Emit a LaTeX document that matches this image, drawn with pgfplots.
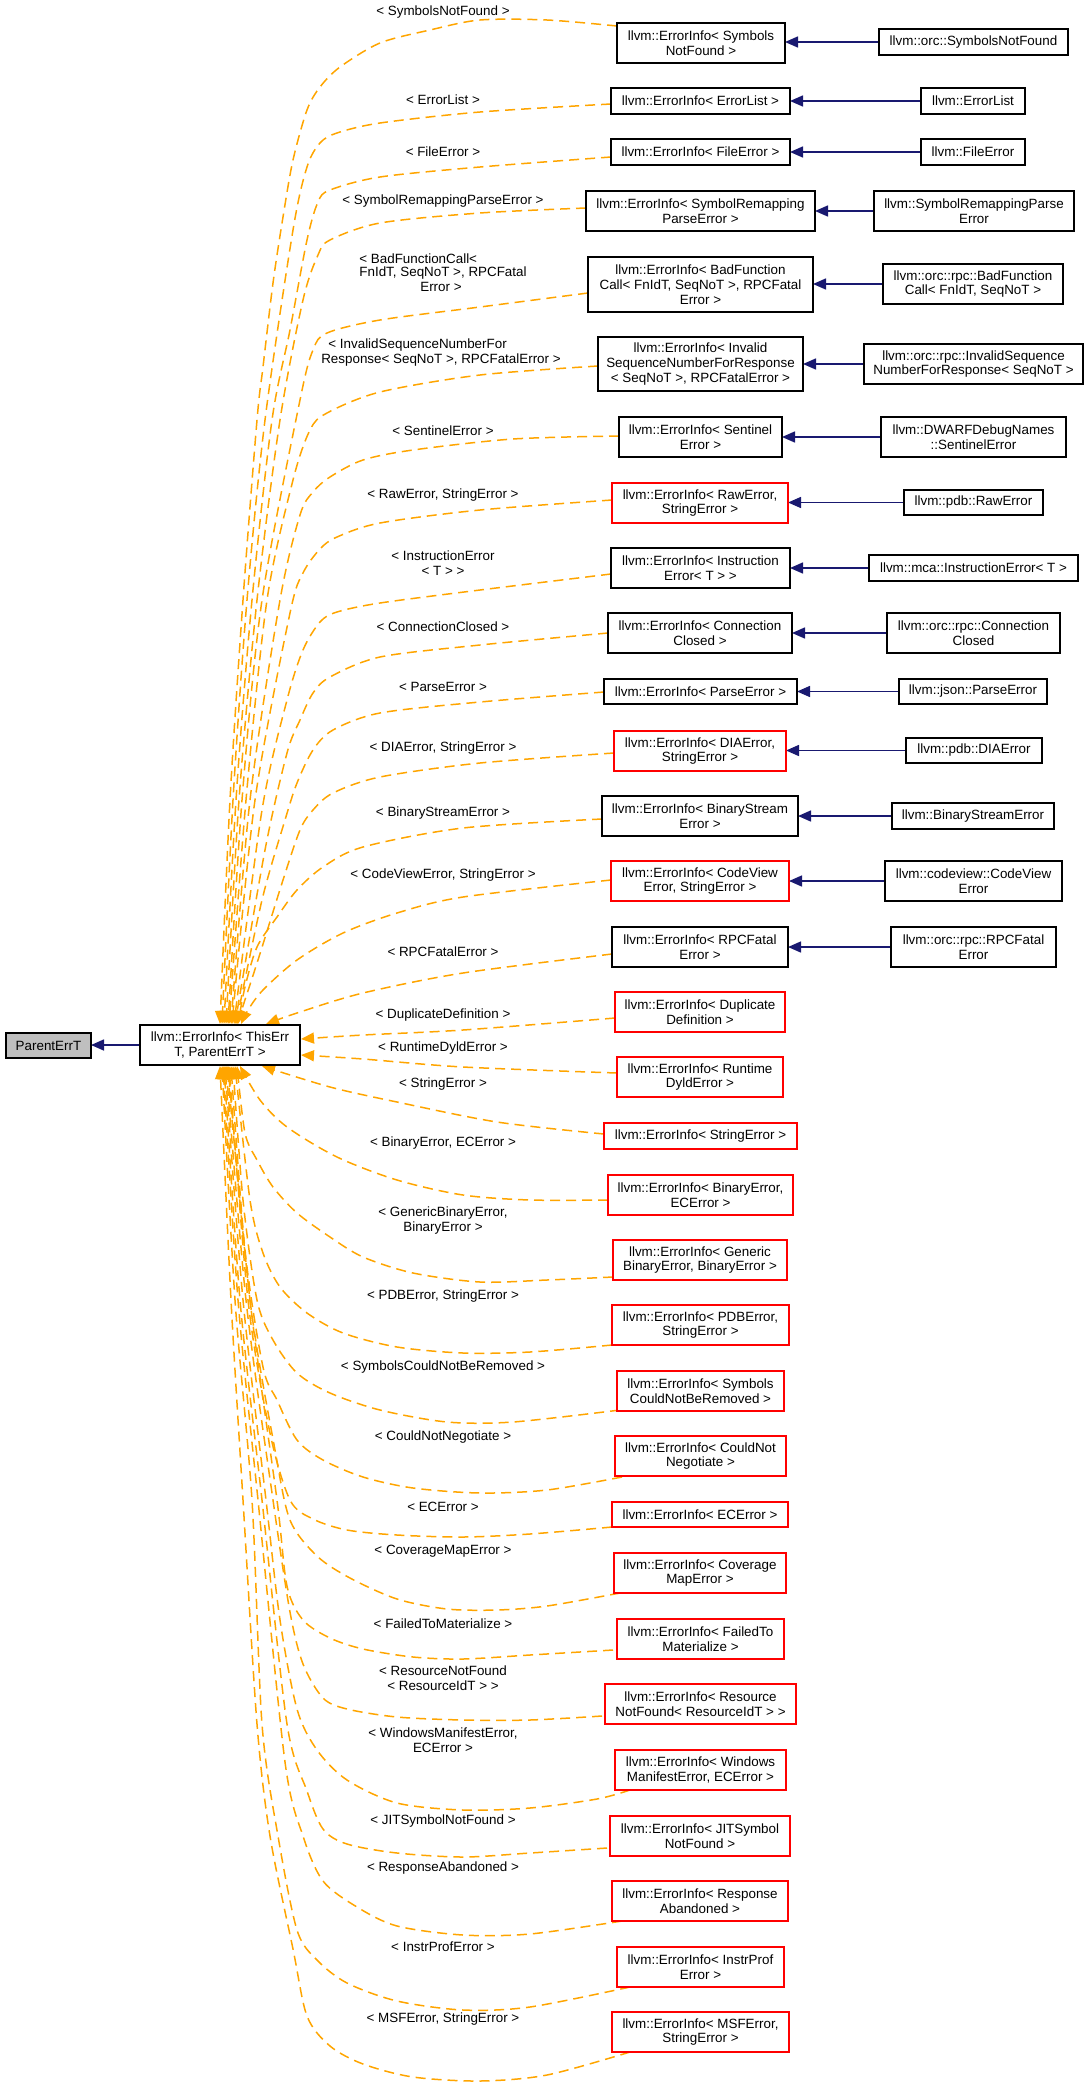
\documentclass[border=0pt]{standalone}
\usepackage{pgfplots}
\pgfplotsset{compat=1.18}
\usepackage{fontspec}
\setmainfont{Liberation Sans}
\usetikzlibrary{arrows.meta}
\definecolor{dorange}{HTML}{FFA500}
\definecolor{dblue}{HTML}{191970}
\definecolor{dred}{HTML}{FF0000}
\definecolor{dgray}{HTML}{BFBFBF}
\newcommand{\nf}{\fontsize{6.7pt}{7.4pt}\selectfont}
% box: x1 x2 y1 y2 cx cy color text
\newcommand{\bx}[8]{%
\addplot[draw=#7, fill=white, line width=0.8pt] coordinates {(#1,#3)(#2,#3)(#2,#4)(#1,#4)} -- cycle;
\node[align=center, font=\nf, inner sep=0pt] at (axis cs:#5,#6) {#8};}
\newcommand{\lb}[3]{\node[align=center, font=\nf, inner sep=0pt] at (axis cs:#1,#2) {#3};}
\begin{document}
\begin{tikzpicture}
\begin{axis}[
  width=542pt, height=1041.5pt, scale only axis,
  xmin=0, xmax=1084, ymin=0, ymax=2083, y dir=reverse,
  hide axis, clip=false,
  edge/.style={dorange, dash pattern=on 5pt off 3pt, line width=0.75pt, smooth, -{Triangle[length=6.5pt,width=5.5pt]}},
  inh/.style={dblue, line width=0.75pt, -{Triangle[length=6.5pt,width=5.5pt]}},
]
\addplot[draw=none] coordinates {(0,0)(1084,2083)};
% ---- orange dashed edges (top group)
\addplot[edge] coordinates {(617,26)(547,20)(480,20)(430,30)(380,43)(340,67)(320,87)(307,110)(293,160)(283,217)(273,283)(263,367)(257,420)(243,600)(230,800)(220,1024)};
\addplot[edge] coordinates {(611,104)(480,112)(380,123)(337,133)(320,143)(307,167)(293,230)(265,420)(247,600)(233,800)(222,1024)};
\addplot[edge] coordinates {(611,157)(480,167)(380,177)(330,190)(318,202)(307,240)(290,330)(272,420)(252,600)(236,800)(224,1024)};
\addplot[edge] coordinates {(586,208)(480,213)(380,223)(330,240)(318,255)(303,300)(280,420)(257,600)(239,800)(226,1024)};
\addplot[edge] coordinates {(588,293)(480,307)(380,320)(327,333)(313,350)(300,400)(262,600)(242,800)(228,1024)};
\addplot[edge] coordinates {(598,366)(480,375)(380,392)(327,413)(310,430)(293,480)(267,600)(246,800)(229,1024)};
\addplot[edge] coordinates {(619,436)(513,439)(413,450)(363,460)(330,477)(313,492)(300,515)(280,600)(250,800)(231,1024)};
\addplot[edge] coordinates {(612,500)(480,510)(380,523)(337,537)(320,549)(303,573)(290,613)(255,800)(232,1024)};
\addplot[edge] coordinates {(611,574)(480,590)(380,603)(337,612)(320,622)(303,650)(287,700)(262,810)(234,1024)};
\addplot[edge] coordinates {(608,633)(480,645)(380,657)(330,677)(313,693)(300,720)(287,753)(265,850)(235,1024)};
\addplot[edge] coordinates {(604,692)(480,702)(380,713)(333,730)(313,750)(297,783)(285,820)(262,900)(236,1024)};
\addplot[edge] coordinates {(614,753)(480,763)(380,777)(333,793)(313,810)(300,830)(283,880)(258,960)(237,1024)};
\addplot[edge] coordinates {(602,819)(463,828)(363,847)(323,867)(297,890)(277,917)(257,947)(245,987)(238,1024)};
\addplot[edge] coordinates {(611,880)(463,897)(397,913)(343,933)(297,960)(263,990)(248,1010)(241,1024)};
\addplot[edge] coordinates {(612,954)(463,973)(363,993)(300,1012)(266,1024)};
\addplot[edge] coordinates {(615,1018)(463,1030)(363,1035)(301,1039)};
\addplot[edge] coordinates {(617,1073)(463,1067)(363,1059)(301,1055)};
\addplot[edge] coordinates {(604,1134)(497,1122)(397,1102)(330,1087)(262,1066)};
% ---- orange dashed edges (bottom group)
\addplot[edge] coordinates {(608,1200)(530,1200)(463,1195)(397,1180)(337,1157)(287,1127)(260,1100)(240,1066)};
\addplot[edge] coordinates {(613,1277)(547,1280)(480,1282)(413,1273)(363,1257)(330,1237)(297,1213)(273,1187)(257,1160)(245,1133)(237,1066)};
\addplot[edge] coordinates {(612,1345)(530,1352)(463,1353)(397,1347)(343,1333)(307,1313)(280,1287)(263,1253)(250,1200)(235,1066)};
\addplot[edge] coordinates {(620,1410)(513,1422)(447,1422)(380,1410)(330,1393)(297,1373)(273,1340)(257,1300)(243,1200)(233,1066)};
\addplot[edge] coordinates {(622,1477)(547,1490)(480,1493)(413,1488)(363,1477)(323,1460)(297,1440)(277,1400)(263,1367)(245,1250)(231,1066)};
\addplot[edge] coordinates {(612,1527)(530,1534)(463,1537)(397,1535)(347,1530)(313,1519)(290,1500)(270,1433)(248,1300)(229,1066)};
\addplot[edge] coordinates {(620,1593)(547,1606)(497,1610)(447,1609)(397,1599)(350,1578)(317,1556)(290,1520)(275,1450)(250,1300)(228,1066)};
\addplot[edge] coordinates {(613,1650)(530,1655)(463,1659)(413,1657)(363,1649)(330,1638)(303,1620)(287,1586)(277,1500)(250,1300)(227,1066)};
\addplot[edge] coordinates {(602,1716)(530,1720)(463,1720)(397,1717)(347,1709)(323,1698)(303,1664)(290,1612)(273,1500)(246,1300)(226,1066)};
\addplot[edge] coordinates {(630,1790)(597,1799)(530,1808)(463,1810)(397,1803)(347,1780)(317,1750)(297,1709)(280,1620)(266,1500)(243,1300)(225,1066)};
\addplot[edge] coordinates {(607,1848)(530,1853)(463,1857)(397,1853)(347,1844)(323,1829)(307,1791)(287,1724)(262,1500)(240,1300)(224,1066)};
\addplot[edge] coordinates {(622,1921)(530,1934)(463,1935)(397,1926)(357,1907)(323,1881)(303,1836)(285,1762)(258,1500)(238,1300)(223,1066)};
\addplot[edge] coordinates {(630,1987)(530,2007)(463,2010)(397,2001)(347,1983)(317,1960)(297,1930)(278,1836)(262,1724)(252,1500)(235,1300)(222,1066)};
\addplot[edge] coordinates {(630,2052)(547,2075)(480,2081)(413,2077)(363,2064)(330,2046)(307,2016)(293,1949)(270,1836)(257,1724)(243,1500)(231,1300)(220,1066)};
% ---- blue inheritance arrows
\addplot[inh] coordinates {(879,42)(785,42)};
\addplot[inh] coordinates {(921,101)(790,101)};
\addplot[inh] coordinates {(921,152)(790,152)};
\addplot[inh] coordinates {(874,211)(815,211)};
\addplot[inh] coordinates {(883,284)(813,284)};
\addplot[inh] coordinates {(864,364)(803,364)};
\addplot[inh] coordinates {(881,437)(782,437)};
\addplot[inh] coordinates {(904,502.5)(788,502.5)};
\addplot[inh] coordinates {(869,568)(790,568)};
\addplot[inh] coordinates {(887,633)(792,633)};
\addplot[inh] coordinates {(899,691.5)(797,691.5)};
\addplot[inh] coordinates {(906,750.5)(786,750.5)};
\addplot[inh] coordinates {(892,816)(798,816)};
\addplot[inh] coordinates {(885,881)(789,881)};
\addplot[inh] coordinates {(891,947)(788,947)};
\addplot[inh] coordinates {(140,1045)(91,1045)};
% ---- boxes
\addplot[draw=black, fill=dgray, line width=0.8pt] coordinates {(6,1033)(91,1033)(91,1058)(6,1058)} -- cycle;
\node[font=\nf, inner sep=0pt] at (axis cs:48.5,1045.5) {ParentErrT};
\bx{140}{300}{1025}{1065}{220}{1045}{black}{llvm::ErrorInfo< ThisErr\\T, ParentErrT >}
\bx{617}{785}{23}{63}{701}{43}{black}{llvm::ErrorInfo< Symbols\\NotFound >}
\bx{611}{790}{88}{114}{700.5}{101}{black}{llvm::ErrorInfo< ErrorList >}
\bx{611}{790}{139}{165}{700.5}{152}{black}{llvm::ErrorInfo< FileError >}
\bx{586}{815}{191}{231}{700.5}{211}{black}{llvm::ErrorInfo< SymbolRemapping\\ParseError >}
\bx{588}{813}{257}{312}{700.5}{284.5}{black}{llvm::ErrorInfo< BadFunction\\Call< FnIdT, SeqNoT >, RPCFatal\\Error >}
\bx{598}{803}{337}{391}{700.5}{364}{black}{llvm::ErrorInfo< Invalid\\SequenceNumberForResponse\\< SeqNoT >, RPCFatalError >}
\bx{619}{782}{417}{457}{700.5}{437}{black}{llvm::ErrorInfo< Sentinel\\Error >}
\bx{612}{788}{483}{523}{700}{503}{dred}{llvm::ErrorInfo< RawError,\\StringError >}
\bx{611}{790}{548}{588}{700.5}{568}{black}{llvm::ErrorInfo< Instruction\\Error< T > >}
\bx{608}{792}{613}{653}{700}{633}{black}{llvm::ErrorInfo< Connection\\Closed >}
\bx{604}{797}{679}{704}{700.5}{691.5}{black}{llvm::ErrorInfo< ParseError >}
\bx{614}{786}{731}{771}{700}{751}{dred}{llvm::ErrorInfo< DIAError,\\StringError >}
\bx{602}{798}{796}{836}{700}{816}{black}{llvm::ErrorInfo< BinaryStream\\Error >}
\bx{611}{789}{861}{901}{700}{881}{dred}{llvm::ErrorInfo< CodeView\\Error, StringError >}
\bx{612}{788}{927}{967}{700}{947}{black}{llvm::ErrorInfo< RPCFatal\\Error >}
\bx{615}{785}{992}{1032}{700}{1012}{dred}{llvm::ErrorInfo< Duplicate\\Definition >}
\bx{617}{783}{1057}{1097}{700}{1077}{dred}{llvm::ErrorInfo< Runtime\\DyldError >}
\bx{604}{797}{1123}{1149}{700.5}{1136}{dred}{llvm::ErrorInfo< StringError >}
\bx{608}{793}{1175}{1215}{700.5}{1195}{dred}{llvm::ErrorInfo< BinaryError,\\ECError >}
\bx{613}{787}{1240}{1280}{700}{1260}{dred}{llvm::ErrorInfo< Generic\\BinaryError, BinaryError >}
\bx{612}{789}{1305}{1345}{700.5}{1325}{dred}{llvm::ErrorInfo< PDBError,\\StringError >}
\bx{617}{784}{1371}{1411}{700.5}{1391}{dred}{llvm::ErrorInfo< Symbols\\CouldNotBeRemoved >}
\bx{615}{786}{1436}{1476}{700.5}{1456}{dred}{llvm::ErrorInfo< CouldNot\\Negotiate >}
\bx{612}{788}{1502}{1527}{700}{1514.5}{dred}{llvm::ErrorInfo< ECError >}
\bx{614}{786}{1553}{1593}{700}{1573}{dred}{llvm::ErrorInfo< Coverage\\MapError >}
\bx{617}{784}{1619}{1659}{700.5}{1639}{dred}{llvm::ErrorInfo< FailedTo\\Materialize >}
\bx{605}{796}{1684}{1724}{700.5}{1704}{dred}{llvm::ErrorInfo< Resource\\NotFound< ResourceIdT > >}
\bx{615}{786}{1750}{1790}{700.5}{1770}{dred}{llvm::ErrorInfo< Windows\\ManifestError, ECError >}
\bx{610}{790}{1816}{1856}{700}{1836}{dred}{llvm::ErrorInfo< JITSymbol\\NotFound >}
\bx{612}{788}{1881}{1921}{700}{1901}{dred}{llvm::ErrorInfo< Response\\Abandoned >}
\bx{617}{784}{1947}{1987}{700.5}{1967}{dred}{llvm::ErrorInfo< InstrProf\\Error >}
\bx{612}{789}{2012}{2052}{700.5}{2032}{dred}{llvm::ErrorInfo< MSFError,\\StringError >}
% right column
\bx{879}{1068}{29}{55}{973.5}{42}{black}{llvm::orc::SymbolsNotFound}
\bx{921}{1025}{88}{114}{973}{101}{black}{llvm::ErrorList}
\bx{921}{1025}{139}{165}{973}{152}{black}{llvm::FileError}
\bx{874}{1074}{191}{231}{974}{211}{black}{llvm::SymbolRemappingParse\\Error}
\bx{883}{1063}{264}{304}{973}{284}{black}{llvm::orc::rpc::BadFunction\\Call< FnIdT, SeqNoT >}
\bx{864}{1083}{344}{384}{973.5}{364}{black}{llvm::orc::rpc::InvalidSequence\\NumberForResponse< SeqNoT >}
\bx{881}{1066}{417}{457}{973.5}{437}{black}{llvm::DWARFDebugNames\\::SentinelError}
\bx{904}{1043}{490}{515}{973.5}{502.5}{black}{llvm::pdb::RawError}
\bx{869}{1078}{555}{581}{973.5}{568}{black}{llvm::mca::InstructionError< T >}
\bx{887}{1060}{613}{653}{973.5}{633}{black}{llvm::orc::rpc::Connection\\Closed}
\bx{899}{1047}{679}{704}{973}{691.5}{black}{llvm::json::ParseError}
\bx{906}{1042}{738}{763}{974}{750.5}{black}{llvm::pdb::DIAError}
\bx{892}{1054}{803}{829}{973}{816}{black}{llvm::BinaryStreamError}
\bx{885}{1062}{861}{901}{973.5}{881}{black}{llvm::codeview::CodeView\\Error}
\bx{891}{1056}{927}{967}{973.5}{947}{black}{llvm::orc::rpc::RPCFatal\\Error}
% ---- edge labels
\lb{443}{11.7}{< SymbolsNotFound >}
\lb{443}{100}{< ErrorList >}
\lb{443}{151.7}{< FileError >}
\lb{443}{201}{< SymbolRemappingParseError >}
\node[anchor=west, font=\nf, inner sep=0pt] at (axis cs:359,258.3) {< BadFunctionCall<};
\node[anchor=west, font=\nf, inner sep=0pt] at (axis cs:359,272.7) {FnIdT, SeqNoT >, RPCFatal};
\lb{441}{287.3}{Error >}
\node[anchor=west, font=\nf, inner sep=0pt] at (axis cs:328,345) {< InvalidSequenceNumberFor};
\lb{441}{360}{Response< SeqNoT >, RPCFatalError >}
\lb{443}{430.7}{< SentinelError >}
\lb{443}{495}{< RawError, StringError >}
\lb{443}{563.3}{< InstructionError\\< T > >}
\lb{443}{626.7}{< ConnectionClosed >}
\lb{443}{686.7}{< ParseError >}
\lb{443}{747.7}{< DIAError, StringError >}
\lb{443}{812.7}{< BinaryStreamError >}
\lb{443}{875}{< CodeViewError, StringError >}
\lb{443}{951.7}{< RPCFatalError >}
\lb{443}{1015}{< DuplicateDefinition >}
\lb{443}{1047.7}{< RuntimeDyldError >}
\lb{443}{1084}{< StringError >}
\lb{443}{1143.3}{< BinaryError, ECError >}
\lb{443}{1220.2}{< GenericBinaryError,\\BinaryError >}
\lb{443}{1296}{< PDBError, StringError >}
\lb{443}{1366.7}{< SymbolsCouldNotBeRemoved >}
\lb{443}{1437.3}{< CouldNotNegotiate >}
\lb{443}{1506.7}{< ECError >}
\lb{443}{1551}{< CoverageMapError >}
\lb{443}{1624}{< FailedToMaterialize >}
\lb{443}{1678}{< ResourceNotFound\\< ResourceIdT > >}
\lb{443}{1740.5}{< WindowsManifestError,\\ECError >}
\lb{443}{1820.7}{< JITSymbolNotFound >}
\lb{443}{1867.7}{< ResponseAbandoned >}
\lb{443}{1947}{< InstrProfError >}
\lb{443}{2019}{< MSFError, StringError >}
\end{axis}
\end{tikzpicture}
\end{document}
